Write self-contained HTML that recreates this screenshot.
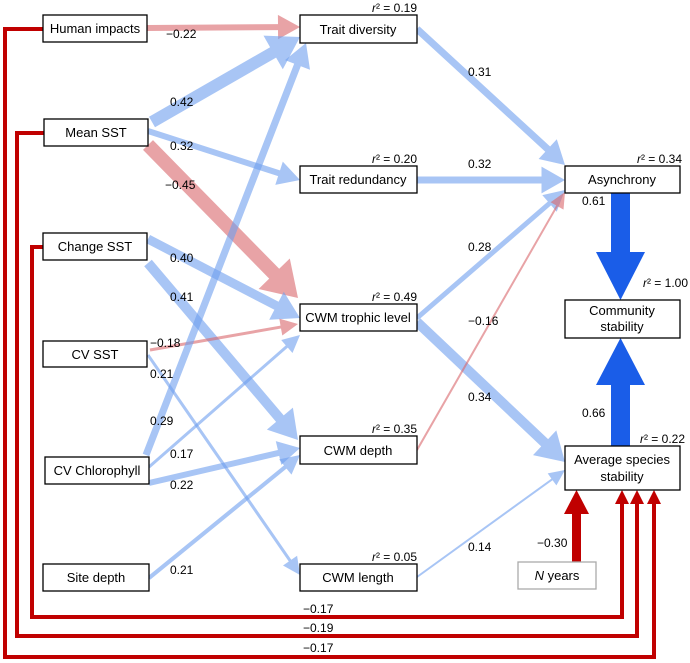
<!DOCTYPE html>
<html><head><meta charset="utf-8"><style>
body{margin:0;background:#fff;}
svg{display:block;font-family:"Liberation Sans",Arial,sans-serif;}
.b{fill:#fff;stroke:#000;stroke-width:1.3}
.t{font-size:13px;text-anchor:middle}
.l{font-size:12px}
.r{font-size:12px;text-anchor:end}
</style></head><body>
<svg id="s" width="690" height="663" viewBox="0 0 690 663" xmlns="http://www.w3.org/2000/svg">
<g id="arrows"></g>
<g fill="none" stroke="#c00000" stroke-width="4">
<polyline points="43,29 5,29 5,657 654,657 654,502"/>
<polyline points="44,133 17,133 17,636 637,636 637,502"/>
<polyline points="43,247 32,247 32,617 622,617 622,502"/>
</g>
<g fill="#c00000">
<polygon points="647,504 661,504 654,490"/>
<polygon points="630,504 644,504 637,490"/>
<polygon points="615,504 629,504 622,490"/>
<rect x="572" y="510" width="9" height="53"/>
<polygon points="564,514 589,514 576.5,490"/>
</g>
<g fill="#1a5de8">
<rect x="611" y="193" width="19" height="62"/>
<polygon points="596,252 645,252 620.5,300"/>
<rect x="611" y="382" width="19" height="64"/>
<polygon points="596,385 645,385 620.5,338"/>
</g>
<rect class="b" x="43" y="15" width="104" height="27"/><text class="t" x="95" y="33">Human impacts</text>
<rect class="b" x="44" y="119" width="104" height="27"/><text class="t" x="96" y="137">Mean SST</text>
<rect class="b" x="43" y="233" width="104" height="27"/><text class="t" x="95" y="251">Change SST</text>
<rect class="b" x="43" y="341" width="104" height="26"/><text class="t" x="95" y="359">CV SST</text>
<rect class="b" x="45" y="457" width="104" height="27"/><text class="t" x="97" y="475">CV Chlorophyll</text>
<rect class="b" x="43" y="564" width="106" height="27"/><text class="t" x="96" y="582">Site depth</text>
<rect class="b" x="300" y="15" width="117" height="28"/><text class="t" x="358" y="34">Trait diversity</text>
<rect class="b" x="300" y="166" width="117" height="27"/><text class="t" x="358" y="184">Trait redundancy</text>
<rect class="b" x="300" y="304" width="117" height="27"/><text class="t" x="358" y="322">CWM trophic level</text>
<rect class="b" x="300" y="436" width="117" height="28"/><text class="t" x="358" y="455">CWM depth</text>
<rect class="b" x="300" y="564" width="117" height="27"/><text class="t" x="358" y="582">CWM length</text>
<rect class="b" x="565" y="166" width="115" height="27"/><text class="t" x="622" y="184">Asynchrony</text>
<rect class="b" x="565" y="300" width="115" height="38"/><text class="t" x="622" y="315">Community</text><text class="t" x="622" y="331">stability</text>
<rect class="b" x="565" y="446" width="115" height="44"/><text class="t" x="622" y="464">Average species</text><text class="t" x="622" y="481">stability</text>
<rect x="518" y="562" width="78" height="27" fill="#fff" stroke="#aaa" stroke-width="1.3"/><text class="t" x="557" y="580"><tspan font-style="italic">N</tspan> years</text>
<g>
<text class="r" x="417" y="12"><tspan font-style="italic">r</tspan>² = 0.19</text>
<text class="r" x="417" y="163"><tspan font-style="italic">r</tspan>² = 0.20</text>
<text class="r" x="417" y="301"><tspan font-style="italic">r</tspan>² = 0.49</text>
<text class="r" x="417" y="433"><tspan font-style="italic">r</tspan>² = 0.35</text>
<text class="r" x="417" y="561"><tspan font-style="italic">r</tspan>² = 0.05</text>
<text class="r" x="682" y="163"><tspan font-style="italic">r</tspan>² = 0.34</text>
<text class="r" x="688" y="287"><tspan font-style="italic">r</tspan>² = 1.00</text>
<text class="r" x="685" y="443"><tspan font-style="italic">r</tspan>² = 0.22</text>
</g>
<g>
<text class="l" x="166" y="38">−0.22</text>
<text class="l" x="170" y="106">0.42</text>
<text class="l" x="170" y="150">0.32</text>
<text class="l" x="165" y="189">−0.45</text>
<text class="l" x="170" y="262">0.40</text>
<text class="l" x="170" y="301">0.41</text>
<text class="l" x="150" y="347">−0.18</text>
<text class="l" x="150" y="378">0.21</text>
<text class="l" x="150" y="425">0.29</text>
<text class="l" x="170" y="458">0.17</text>
<text class="l" x="170" y="489">0.22</text>
<text class="l" x="170" y="574">0.21</text>
<text class="l" x="468" y="76">0.31</text>
<text class="l" x="468" y="168">0.32</text>
<text class="l" x="468" y="251">0.28</text>
<text class="l" x="468" y="325">−0.16</text>
<text class="l" x="468" y="401">0.34</text>
<text class="l" x="468" y="551">0.14</text>
<text class="l" x="582" y="205">0.61</text>
<text class="l" x="582" y="417">0.66</text>
<text class="l" x="537" y="547">−0.30</text>
<text class="l" x="303" y="613">−0.17</text>
<text class="l" x="303" y="632">−0.19</text>
<text class="l" x="303" y="652">−0.17</text>
</g>
</svg>
<script>
var B="rgba(110,158,238,0.6)",P="rgba(217,102,107,0.6)";
var E=[
[147,28,300,27,6,P],[152,122,300,37,12,B],[148,131,300,180,6,B],[148,145,298,298,14,P],
[148,239,300,318,9,B],[148,263,298,440,10,B],[150,350,298,324,3,P],[148,355,300,575,3,B],
[146,455,306,43,7,B],[149,467,300,335,3,B],[149,483,300,448,6,B],[149,578,300,455,4,B],
[417,29,565,165,7,B],[417,180,565,180,7,B],[417,318,565,190,5,B],[417,322,565,462,10,B],
[417,450,565,192,2,P],[417,577,565,470,2,B]];
var g=document.getElementById("arrows"),h="";
E.forEach(function(e){var x1=e[0],y1=e[1],x2=e[2],y2=e[3],w=e[4];
var dx=x2-x1,dy=y2-y1,L=Math.hypot(dx,dy),ux=dx/L,uy=dy/L,nx=-uy,ny=ux;
var hl=1.5*w+13,hw=(2.4*w+10)/2,bx=x2-ux*hl,by=y2-uy*hl,s=w/2;
var p=[[x1+nx*s,y1+ny*s],[bx+nx*s,by+ny*s],[bx+nx*hw,by+ny*hw],[x2,y2],[bx-nx*hw,by-ny*hw],[bx-nx*s,by-ny*s],[x1-nx*s,y1-ny*s]];
h+='<polygon fill="'+e[5]+'" points="'+p.map(function(q){return q[0].toFixed(1)+","+q[1].toFixed(1)}).join(" ")+'"/>';});
g.innerHTML=h;
</script>
</body></html>
